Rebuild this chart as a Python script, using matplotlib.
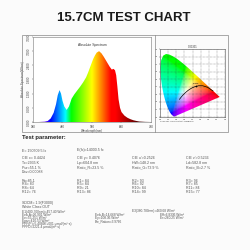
import numpy as np
import matplotlib.pyplot as plt
from matplotlib.patches import Rectangle, Polygon
from matplotlib.lines import Line2D

plt.rcParams['font.family'] = ['Liberation Sans', 'DejaVu Sans']

# spectrum (W/m2/nm)
wavelength = [380, 400, 420, 430, 440, 450, 458, 464, 470, 475, 480, 486, 494, 502,
              511, 520, 529, 540, 550, 560, 567, 575, 584, 590, 596, 604, 612, 620,
              630, 640, 647, 653, 658, 662, 666, 670, 675, 680, 690, 700, 710, 720,
              730, 740, 760, 780]
power = [0.0, 0.0, 0.015, 0.045, 0.15, 0.39, 0.75, 1.14, 1.35, 1.2, 0.9, 0.66, 0.51, 0.66,
         0.99, 1.17, 1.32, 1.5, 1.68, 1.89, 2.1, 2.37, 2.67, 2.82, 2.94, 3.0, 2.91, 2.76,
         2.55, 2.34, 2.22, 2.25, 2.19, 1.98, 1.5, 0.96, 0.6, 0.42, 0.27, 0.18, 0.12, 0.075,
         0.045, 0.021, 0.006, 0.0]
spec_xticks = [380, 480, 580, 680, 780]
spec_yticks = [0.0, 0.6, 1.2, 1.8, 2.4, 3.0, 3.6]

# CIE 1931 spectral locus
locus_x = [0.1741, 0.1733, 0.1714, 0.1689, 0.1644, 0.1566, 0.1440, 0.1241, 0.1096, 0.0913,
           0.0687, 0.0454, 0.0235, 0.0082, 0.0039, 0.0139, 0.0389, 0.0743, 0.1142, 0.1547,
           0.1929, 0.2296, 0.3016, 0.3731, 0.4441, 0.5125, 0.5752, 0.6270, 0.6658, 0.6915,
           0.7079, 0.7190, 0.7260, 0.7300, 0.7334, 0.7347]
locus_y = [0.0050, 0.0048, 0.0051, 0.0069, 0.0109, 0.0177, 0.0297, 0.0578, 0.0868, 0.1327,
           0.2007, 0.2950, 0.4127, 0.5384, 0.6548, 0.7502, 0.8120, 0.8338, 0.8262, 0.8059,
           0.7816, 0.7543, 0.6923, 0.6245, 0.5547, 0.4866, 0.4242, 0.3725, 0.3340, 0.3083,
           0.2920, 0.2809, 0.2740, 0.2700, 0.2666, 0.2653]
planck_x = [0.6528, 0.5857, 0.5267, 0.4770, 0.4369, 0.4053, 0.3805, 0.3451, 0.3135, 0.2807, 0.2565, 0.2399]
planck_y = [0.3444, 0.3931, 0.4133, 0.4137, 0.4041, 0.3907, 0.3768, 0.3516, 0.3237, 0.2884, 0.2577, 0.2342]
point_x, point_y = 0.4424, 0.4076

title = "15.7CM TEST CHART"
col_x = [22, 77, 132, 186]
param_rows = [
    (150.5, ["E= 150709.5 lx", "E(fc)=14000.5 fc", "", ""]),
    (158.3, ["CIE x= 0.4424", "CIE y= 0.4076", "CIE u'=0.2526", "CIE v'=0.5236"]),
    (163.0, ["Tc=2935 K", "Lp=604.8 nm", "HW=148.2 nm", "Ld=582.8 nm"]),
    (167.7, ["Pur=55.1 %", "Ratio_R=23.5 %", "Ratio_G=73.9 %", "Ratio_B=2.7 %"]),
    (172.3, ["Duv=0.00088", "", "", ""]),
    (180.7, ["Ra=85.1", "R1= 84", "R2= 93", "R3= 96"]),
    (184.4, ["R4= 83", "R5= 84", "R6= 92", "R7= 85"]),
    (188.2, ["R8= 64", "R9= 21", "R10= 84", "R11= 84"]),
    (192.0, ["R12= 76", "R13= 86", "R14= 99", "R15= 77"]),
    (202.8, ["SDCM= 1.9(F3000)", "", "", ""]),
    (207.3, ["White Class:OUT", "", "", ""]),
]
energy_items = [
    (22, 212.3, "E1(400-700nm)=457.40 W/m²"),
    (132, 210.8, "E3(380-780nm)=460.68 W/m²"),
    (22, 215.3, "Eeb-A=26.901 W/m²"),
    (95, 215.3, "Eeb-B=14.668 W/m²"),
    (160, 215.3, "Eff=6.8336 W/m²"),
    (22, 218.2, "Ee=55.251 W/m²"),
    (95, 218.2, "Ey=108.36 W/m²"),
    (160, 218.2, "Er=260.25 W/m²"),
    (22, 221.1, "Epar=410.53 W/m²"),
    (95, 221.1, "Efe_Ration=3.9766"),
    (22, 224.0, "PPF(P)=5.4089E+001 μmol/(m²·s)"),
    (22, 226.9, "PPFD=2221.4 μmol/(m²·s)"),
]

W = 250.0
TXT = '#555555'


def wl_rgb(w):
    if w < 440:
        r, g, b = -(w - 440) / 60, 0.0, 1.0
    elif w < 490:
        r, g, b = 0.0, (w - 440) / 50, 1.0
    elif w < 510:
        r, g, b = 0.0, 1.0, -(w - 510) / 20
    elif w < 580:
        r, g, b = (w - 510) / 70, 1.0, 0.0
    elif w < 645:
        r, g, b = 1.0, -(w - 645) / 65, 0.0
    else:
        r, g, b = 1.0, 0.0, 0.0
    if w < 420:
        f = 0.35 + 0.65 * (w - 380) / 40
    elif w > 660:
        f = max(0.3, 1.0 - 0.7 * (w - 660) / 80)
    else:
        f = 1.0
    return [r * f, g * f, b * f]


def ax_box(l, t, r, b):
    return [l / W, 1 - b / W, (r - l) / W, (b - t) / W]


def put(x, y, s, **kw):
    kw.setdefault('color', TXT)
    kw.setdefault('fontsize', 2.6)
    fig.text(x / W, 1 - y / W, s, va='center', ha=kw.pop('ha', 'left'), **kw)


fig = plt.figure(figsize=(2.5, 2.5), dpi=100, facecolor='#fbfbfb')

put(124, 18, title, fontsize=9.5, color='#1a1a1a', ha='center', fontweight='bold')

# frame around the two plots
fig.add_artist(Rectangle((22 / W, 1 - 132 / W), 206 / W, 97 / W, transform=fig.transFigure,
                         fill=False, lw=0.5, ec='#888888'))
fig.add_artist(Line2D([155 / W, 155 / W], [1 - 35 / W, 1 - 132 / W], transform=fig.transFigure,
                      lw=0.5, color='#888888'))

# spectrum
ax = fig.add_axes(ax_box(33, 37, 151, 122))
ax.set_facecolor('white')
xx = np.linspace(380, 780, 600)
img = np.array([wl_rgb(w) for w in xx])[np.newaxis, :, :]
im = ax.imshow(img, extent=(380, 780, 0, 3.6), aspect='auto', origin='lower', interpolation='bilinear')
verts = np.column_stack([wavelength + [780, 380], power + [0, 0]])
clip = Polygon(verts, closed=True, facecolor='none', edgecolor='none')
ax.add_patch(clip)
im.set_clip_path(clip)
ax.set_xlim(380, 780)
ax.set_ylim(0, 3.6)
ax.set_xticks(spec_xticks)
ax.set_yticks(spec_yticks)
ax.set_yticklabels(['%.3f' % v for v in spec_yticks], rotation=90, va='center')
ax.tick_params(labelsize=2.2, length=1, width=0.3, pad=0.8, colors='#444444')
for s in ax.spines.values():
    s.set_linewidth(0.4)
    s.set_color('#777777')
ax.set_xlabel('Wavelength(nm)', fontsize=2.2, labelpad=0.5, color='#444444')
ax.set_ylabel('Absolute Spectrum(W/nm)', fontsize=2.2, labelpad=0.8, color='#444444')
ax.text(0.5, 0.89, 'Absolute Spectrum', transform=ax.transAxes, fontsize=2.4, ha='center', color='#333333')

# CIE 1931 diagram
cx = fig.add_axes(ax_box(160, 49, 225, 117))
cx.set_facecolor('white')
gx = np.linspace(0, 0.8, 320)
gy = np.linspace(0, 0.9, 360)
X, Y = np.meshgrid(gx, gy)
Yc = np.maximum(Y, 1e-4)
XX = X / Yc
ZZ = (1 - X - Y) / Yc
r = 3.2406 * XX - 1.5372 - 0.4986 * ZZ
g = -0.9689 * XX + 1.8758 + 0.0415 * ZZ
b = 0.0557 * XX - 0.2040 + 1.0570 * ZZ
rgb = np.clip(np.dstack([r, g, b]), 0, None)
rgb = rgb / np.maximum(rgb.max(axis=2, keepdims=True), 1e-9)
rgb = rgb ** (1 / 2.2)
cim = cx.imshow(rgb, extent=(0, 0.8, 0, 0.9), origin='lower', aspect='auto', interpolation='bilinear')
loc = Polygon(np.column_stack([locus_x, locus_y]), closed=True, facecolor='none', edgecolor='none')
cx.add_patch(loc)
cim.set_clip_path(loc)
cx.plot(planck_x, planck_y, color='black', lw=0.5)
cx.plot([point_x], [point_y], marker='+', color='black', ms=1.5, mew=0.4)
cx.text(0.40, 0.435, '2935K', fontsize=1.6, color='black')
cx.set_xlim(0, 0.8)
cx.set_ylim(0, 0.9)
cx.set_xticks(np.arange(0, 0.81, 0.1))
cx.set_yticks(np.arange(0, 0.91, 0.1))
cx.set_xticklabels(['%.1f' % v for v in np.arange(0, 0.81, 0.1)])
cx.set_yticklabels(['%.1f' % v for v in np.arange(0, 0.91, 0.1)])
cx.grid(True, color='#333333', lw=0.25, ls=(0, (2, 2)))
cx.tick_params(labelsize=1.6, length=0.8, width=0.3, pad=0.5, colors='#444444')
for s in cx.spines.values():
    s.set_linewidth(0.4)
    s.set_color('#555555')
cx.set_title('CIE1931', fontsize=1.8, pad=1, color='#333333')
put(160, 121, 'CIE1931 Chromaticity Diagram', fontsize=1.7, color='#444444')

# test parameters
put(22, 137.5, 'Test parameter:', fontsize=4.2, color='#222222', fontweight='bold')
for y, cells in param_rows:
    for x, s in zip(col_x, cells):
        if s:
            put(x, y, s)
for x, y, s in energy_items:
    put(x, y, s, fontsize=2.3)

fig.savefig('out.png', dpi=100, facecolor=fig.get_facecolor())
